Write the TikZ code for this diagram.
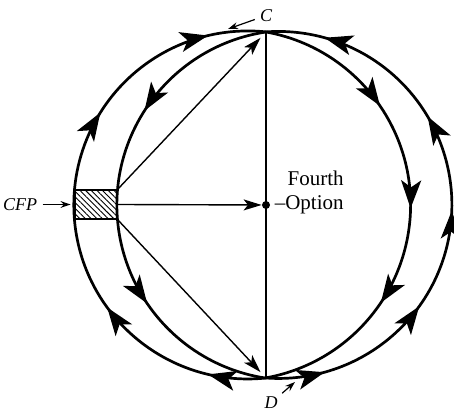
\documentclass[tikz,border=0pt]{standalone}
\usepackage{fontspec}
\setmainfont{Liberation Serif}
\usetikzlibrary{arrows.meta, calc, positioning, decorations.markings, patterns.meta}

\begin{document}
\begin{tikzpicture}[x=0.5pt, y=0.5pt, >={Stealth[length=14pt, width=10pt, inset=3.5pt]},
  flow/.style={line width=1.35pt},
  midtip/.style={postaction={decorate, decoration={markings, mark=at position #1 with {\arrow{>}}}}},
  fine/.style={line width=0.7pt},
  ray/.style={fine, -{Stealth[length=9pt, width=5.5pt, inset=2.2pt]}, shorten >=#1},
  ray/.default=0pt,
  pointer/.style={line width=0.6pt, -{Stealth[length=5pt, width=3.4pt]}, shorten <=1.5pt},
  lbl/.style={inner sep=1pt, font=\fontsize{10.5}{12}\selectfont},
  tag/.style={inner sep=1pt, font=\fontsize{9}{11}\selectfont\itshape}]
  \useasboundingbox (0,0) rectangle (454,416);
  \coordinate (C) at (266,384);
  \coordinate (D) at (266,38);
  \node[draw, line width=0.9pt, inner sep=0pt, minimum width=21pt, minimum height=14.5pt,
        pattern={Lines[angle=-45, distance=2pt, line width=0.45pt]}] (box) at (96,211.5) {};
  \draw[flow, midtip=0.10, midtip=0.312, midtip=0.667, midtip=0.90] (D) arc[start angle=276, end angle=84, radius=87pt];
  \draw[flow, midtip=0.30, midtip=0.71] (C) arc[start angle=98.5, end angle=261.5, radius=87.5pt];
  \draw[flow, midtip=0.285, midtip=0.507, midtip=0.712] (C) arc[start angle=79.8, end angle=-79.8, radius=87.85pt];
  \draw[flow, midtip=0.104, midtip=0.31, midtip=0.49, midtip=0.663, midtip=0.896] (D) arc[start angle=-94.1, end angle=94.1, radius=86.75pt];
  \node[circle, fill, inner sep=0pt, minimum size=4pt] (dot) at (266,211) {};
  \draw[fine] (C) -- (D);
  \draw[ray=4pt] (box.north east) -- (C);
  \draw[ray] (box.east) -- (dot);
  \draw[ray=4pt] (box.south east) -- (D);
  \node[lbl, right=1pt of dot] (option) {--Option};
  \node[lbl, anchor=base east] (fourth) at ($(option.base east)+(0,24)$) {Fourth};
  \node[tag, left=17.5pt of box.west] (cfp) {CFP};
  \draw[pointer, shorten >=2pt] (cfp) -- (box);
  \node[tag, above=4pt of C] (clabel) {C};
  \coordinate (cmark) at (228,387);
  \draw[pointer] (clabel) -- (cmark);
  \node[tag] (dlabel) at ($(D)+(5,-25)$) {D};
  \coordinate (dmark) at (295,34);
  \draw[pointer] (dlabel) -- (dmark);
\end{tikzpicture}
\end{document}
